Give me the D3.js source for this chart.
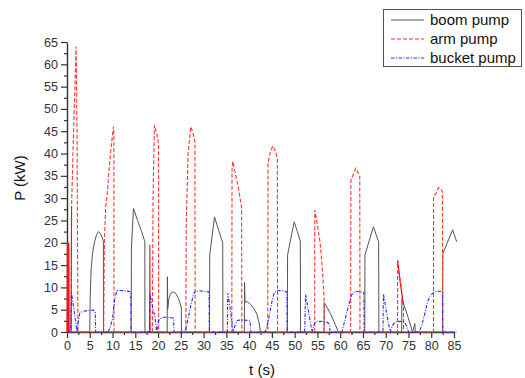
<!DOCTYPE html>
<html><head><meta charset="utf-8">
<script src="https://cdn.jsdelivr.net/npm/d3@7"></script>
<style>body{margin:0;background:#fff}svg{display:block}text{font-family:"Liberation Sans",Arial,sans-serif}</style>
</head><body><svg id="c" width="525" height="378"></svg>
<script>
const seriesNames = ["boom pump","arm pump","bucket pump"];
const xTicks = d3.range(0, 86, 5);
const yTicks = d3.range(0, 66, 5);

const boomPump = [[0,0],[5.0,0],[5.1,8],[5.3,14],[5.6,17.5],[6.0,20],[6.5,21.8],[6.9,22.5],[7.4,22],[7.8,21],[8.0,20.2],[8.02,0],
[14.1,0],[14.15,18.8],[14.6,27.7],[15.5,25],[16.4,22.5],[17.1,20.2],[17.12,0],
[22.0,0],[22.05,12.4],[22.1,5],[22.4,7.6],[22.8,8.7],[23.3,9.0],[23.9,8.6],[24.5,7.5],[25.1,5.6],[25.15,0],
[31.3,0],[31.35,17.3],[32.4,25.8],[33.3,22.8],[34.2,20],[34.25,0],
[38.95,0],[39.0,11.1],[39.1,6.7],[39.6,6.8],[40.3,6.2],[41.0,5.3],[41.7,4.0],[42.2,2.0],[42.5,0],
[48.4,0],[48.45,17.3],[49.9,24.7],[50.6,22.5],[51.25,20.3],[51.3,0],
[56.45,0],[56.5,6.6],[57.2,5.4],[58.0,3.8],[58.8,2.0],[59.6,0],
[65.4,0],[65.45,17.3],[67.3,23.6],[68.45,20.2],[68.5,0],
[73.5,0],[73.55,7.5],[74.1,5.8],[74.7,4.0],[75.3,2.0],[75.9,0],[76.4,1.9],[76.5,0],
[82.5,0],[82.55,17.6],[84.7,22.9],[85.6,20.2]];

const armPump = [[0,0],[0.9,0],[1.0,28],[1.5,47],[2.0,64],[2.2,45],[2.4,0],
[8.05,0],[8.2,20],[8.5,28],[8.8,30.5],[9.2,36],[9.7,41.5],[10.2,46],[10.3,44],[10.32,0],
[18.75,0],[18.9,30],[19.2,46.4],[19.7,44.5],[20.1,42.3],[20.12,0],
[26.1,0],[26.2,25],[26.6,40],[27.2,46],[27.7,44.5],[28.1,42.6],[28.15,0],
[36.2,0],[36.25,37],[36.4,38.2],[37.0,35.5],[37.7,32],[38.35,27.8],[38.4,0],
[44.1,0],[44.15,37.9],[44.7,40.5],[45.2,41.7],[45.8,40.5],[46.2,38.9],[46.25,0],
[54.4,0],[54.42,27.3],[55.0,24],[55.6,20],[56.1,14],[56.45,8],[56.5,0],
[62.3,0],[62.35,34],[63.4,36.7],[64.3,35],[64.35,0],
[72.6,0],[72.62,16],[73.9,6],[73.92,0],
[80.5,0],[80.52,30.3],[81.0,31],[81.6,32.4],[82.0,32.2],[82.45,31.5],[82.5,0],[85.5,0]];

const armPumpSolid = [
 [[0,0],[0.08,20],[0.16,0],[0.24,20],[0.32,0],[0.4,20],[0.48,0]],
 [[0.9,0],[1.0,28]],
 [[18.15,0],[18.2,19.5],[18.25,0]],
 [[72.62,16],[73.2,11],[73.9,6]]
];

const bucketPump = [[0,0],[0.8,0],[1.0,8.7],[1.3,6.5],[1.75,3.4],[2.0,1.5],[2.2,0],[2.5,2.5],[2.8,4.2],[3.5,4.6],[4.5,4.8],[5.8,4.9],[6.2,4.5],[6.3,0],
[9.0,0],[9.5,1],[10.0,3],[10.5,7.5],[11.0,9.3],[12.0,9.3],[13.0,9.2],[14.0,9.0],[14.05,0],
[18.1,0],[18.2,8.7],[18.7,6],[19.3,3.4],[19.7,0],[20.1,2.5],[20.5,3.0],[21.2,3.3],[22.3,3.3],[23.4,3.1],[23.5,0],
[26.0,0],[26.5,2.5],[27.2,6],[27.8,8.5],[28.2,9.2],[29.5,9.2],[31.2,9.0],[31.25,0],
[35.2,0],[35.3,8.7],[35.8,5.5],[36.2,2.5],[36.5,0],[36.9,1.5],[37.4,2.6],[38.5,2.7],[39.8,2.6],[40.2,2.4],[40.4,0],
[43.5,0],[44.0,1.5],[44.5,4],[45.0,6.8],[45.5,8.7],[46.2,9.3],[47.5,9.2],[48.3,9.0],[48.35,0],
[52.2,0],[52.4,8.4],[52.9,5.5],[53.4,2.5],[53.8,0],[54.2,1.5],[54.6,2.3],[55.5,2.4],[57.0,2.3],[57.6,1.8],[57.8,0],
[60.4,0],[61.0,2.5],[61.5,4.5],[62.0,6.5],[62.5,8.3],[63.2,9.1],[64.5,9.0],[65.2,8.9],[65.25,0],
[69.4,0],[69.5,8.5],[70.0,5.5],[70.5,2.5],[71.0,0],[71.5,1.5],[72.0,2.2],[73.0,2.4],[74.0,2.3],[74.5,1.5],[75.0,0],
[77.4,0],[78.0,1.8],[78.6,4.2],[79.2,6.8],[79.8,8.2],[80.5,8.8],[81.3,9.2],[82.0,9.1],[82.5,8.7],[82.55,0],[85.5,0]];

const svg = d3.select("#c");
const x = d3.scaleLinear().domain([0,85]).range([67,454]);
const y = d3.scaleLinear().domain([0,65]).range([332,42]);
const axisColor = "#333";

svg.append("g").attr("transform","translate(67,0)")
  .call(d3.axisLeft(y).tickValues(yTicks).tickSize(6).tickSizeOuter(0).tickPadding(3));
svg.append("g").attr("transform","translate(67,0)")
  .call(d3.axisLeft(y).tickValues(d3.range(2.5,65,5)).tickSize(3).tickFormat("").tickSizeOuter(0))
  .select(".domain").remove();
svg.append("g").attr("transform","translate(0,332)")
  .call(d3.axisBottom(x).tickValues(xTicks).tickSize(6).tickSizeOuter(0).tickPadding(3));
svg.append("g").attr("transform","translate(0,332)")
  .call(d3.axisBottom(x).tickValues(d3.range(2.5,85,5)).tickSize(3).tickFormat("").tickSizeOuter(0))
  .select(".domain").remove();
svg.selectAll(".domain").attr("stroke",axisColor).attr("stroke-width",1.4);
svg.selectAll(".tick line").attr("stroke",axisColor).attr("stroke-width",1.2);
svg.selectAll(".tick text").attr("fill","#333").style("font-size","12.5px").style("font-family","'Liberation Sans',Arial,sans-serif");

const line = d3.line().x(d=>x(d[0])).y(d=>y(d[1]));
svg.append("path").datum(boomPump).attr("d",line).attr("fill","none").attr("stroke","#555").attr("stroke-width",1);
svg.append("path").datum(armPump).attr("d",line).attr("fill","none").attr("stroke","#ff3333").attr("stroke-width",1.1).attr("stroke-dasharray","4,2");
armPumpSolid.forEach(seg=>svg.append("path").datum(seg).attr("d",line).attr("fill","none").attr("stroke","#ff1111").attr("stroke-width",1.1));
svg.append("path").datum(bucketPump).attr("d",line).attr("fill","none").attr("stroke","#2a2aff").attr("stroke-width",1.1).attr("stroke-dasharray","3.5,1.5,1,1.5");

svg.append("text").attr("transform","translate(25,178) rotate(-90)").attr("text-anchor","middle")
  .style("font-size","15px").attr("fill","#111").text("P (kW)");
svg.append("text").attr("x",262).attr("y",375).attr("text-anchor","middle")
  .style("font-size","15px").attr("fill","#111").text("t (s)");

const lg = svg.append("g");
lg.append("rect").attr("x",383.5).attr("y",9.5).attr("width",138).attr("height",57).attr("fill","#fff").attr("stroke","#555").attr("stroke-width",1);
const styles = [{c:"#555",d:null,w:1},{c:"#ff3333",d:"4,2",w:1.1},{c:"#2a2aff",d:"3.5,1.5,1,1.5",w:1.1}];
seriesNames.forEach((n,i)=>{
  const yy = 20 + i*19;
  lg.append("line").attr("x1",391).attr("x2",424).attr("y1",yy).attr("y2",yy)
    .attr("stroke",styles[i].c).attr("stroke-width",styles[i].w).attr("stroke-dasharray",styles[i].d);
  lg.append("text").attr("x",430).attr("y",yy+5).style("font-size","15px").attr("fill","#111").text(n);
});
</script></body></html>
